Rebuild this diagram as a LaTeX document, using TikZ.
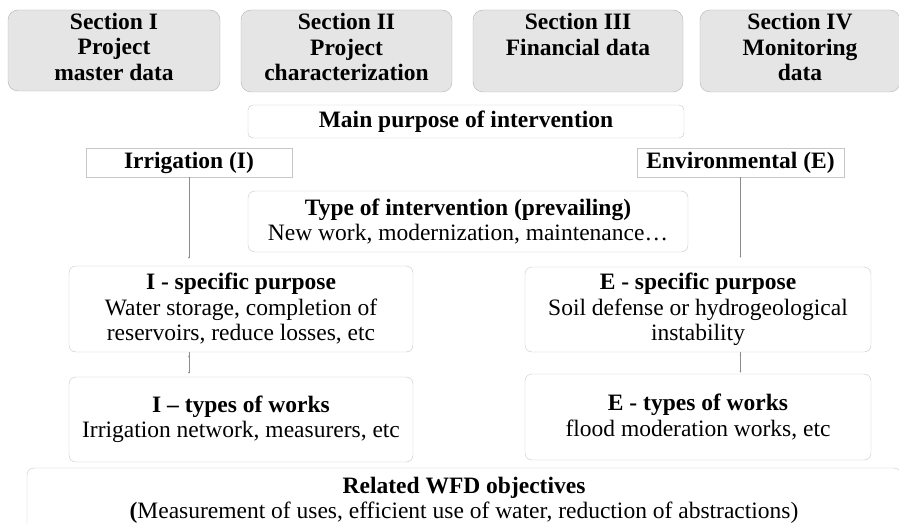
\documentclass[tikz,border=0pt]{standalone}
\usepackage{fontspec}
\setmainfont{Liberation Serif}
\usetikzlibrary{positioning}
\usetikzlibrary{arrows, arrows.meta, shapes, calc}

\begin{document}
\begin{tikzpicture}[x=1pt, y=-1pt, >={Latex[length=2pt,width=2pt]}, font=\fontsize{23.5}{25.5}\selectfont]%

            \tikzstyle{sec} = [ rectangle, rounded corners = 10pt, draw = black!30, fill = black!10, align = center, inner sep = 0pt, font = \fontsize{23.5}{25.5}\selectfont\bfseries, text depth = 8pt]
            \tikzstyle{box} = [ rectangle, rounded corners = 7pt, draw = black!22, fill = white, align = center, inner sep = 0pt]
            \tikzstyle{tag} = [ rectangle, draw = black!22, fill = white, inner sep = 0pt, font = \fontsize{23.5}{25.5}\selectfont\bfseries]
            \tikzstyle{link} = [ ->, draw = black!45, line width = 0.5pt]
        %%
            \clip (0,0) rectangle (899,524);
            %% Sections
            \node [sec, minimum width = 212pt, minimum height = 81pt] (sec1) at (114,50.5) {Section I\\ Project\\ master data};
            \node [sec, minimum width = 211pt, minimum height = 82pt] (sec2) at (346.5,51) {Section II\\ Project\\ characterization};
            \node [sec, minimum width = 210pt, minimum height = 82pt] (sec3) at (578,51) {Section III\\ Financial data\\ \mbox{}};
            \node [sec, minimum width = 200pt, minimum height = 82pt] (sec4) at (800,51) {Section IV\\ Monitoring\\ data};

            %% Purpose
            \node [box, rounded corners = 5pt, minimum width = 436pt, minimum height = 33pt, font = \fontsize{23.5}{25.5}\selectfont\bfseries] (purpose) at (466,121.5) {Main purpose of intervention};
            \node [tag, minimum width = 206pt, minimum height = 29pt] (irr) at (189,162.5) {Irrigation (I)};
            \node [tag, minimum width = 207pt, minimum height = 29pt] (env) at (740.5,162.5) {Environmental (E)};
            \node [box, minimum width = 440pt, minimum height = 61pt] (type) at (468,221.5) {{\bfseries Type of intervention (prevailing)}\\ New work, modernization, maintenance…};

            %% Irrigation branch
            \node [box, minimum width = 344pt, minimum height = 86pt] (ispec) at (241,309) {{\bfseries I - specific purpose}\\ Water storage, completion of\\ reservoirs, reduce losses, etc};
            \node [box, minimum width = 344pt, minimum height = 85pt] (itypes) at (241,419.5) {{\bfseries I – types of works}\\ Irrigation network, measurers, etc};

            \draw[link, shorten >= 7pt] (irr) edge (irr |- ispec.north);
            \draw[link, shorten >= 3pt] (irr |- ispec.south) edge (irr |- itypes.north);

            %% Environmental branch
            \node [box, minimum width = 346pt, minimum height = 85pt] (espec) at (698,309.5) {{\bfseries E - specific purpose}\\ Soil defense or hydrogeological\\ instability};
            \node [box, minimum width = 346pt, minimum height = 86pt] (etypes) at (698,417) {{\bfseries E - types of works}\\ flood moderation works, etc};

            \draw[link, shorten >= 9pt] (env) edge (env |- espec.north);
            \draw[link, shorten >= 1pt] (env |- espec.south) edge (env |- etypes.north);

            %% Objectives
            \node [box, minimum width = 874pt, minimum height = 65pt] (wfd) at (464,500.5) {{\bfseries Related WFD objectives}\\ {\bfseries(}Measurement of uses, efficient use of water, reduction of abstractions)};
        \end{tikzpicture}
\end{document}
